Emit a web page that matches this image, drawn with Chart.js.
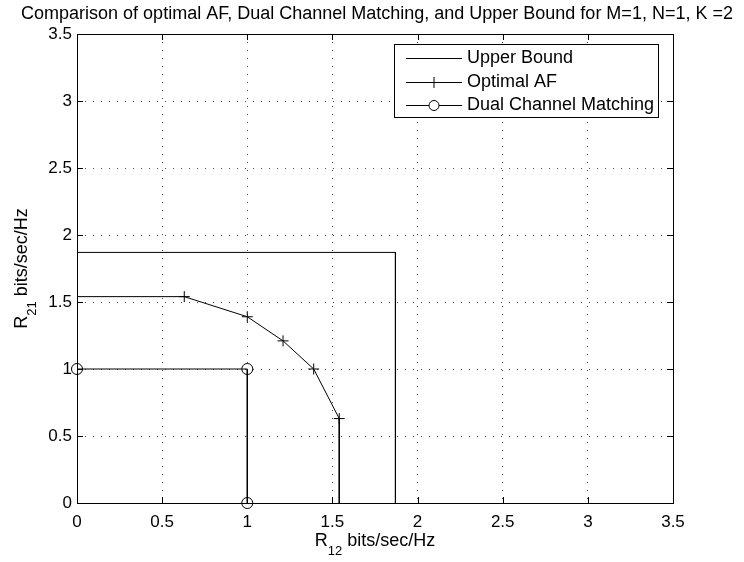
<!DOCTYPE html>
<html>
<head>
<meta charset="utf-8">
<script src="https://cdn.jsdelivr.net/npm/chart.js@4.4.1/dist/chart.umd.min.js"></script>
<style>
  html, body { margin: 0; padding: 0; background: #fff; }
  #wrap { width: 744px; height: 562px; }
</style>
</head>
<body>
<div id="wrap"><canvas id="regionChart" width="744" height="562"></canvas></div>
<script>
// valores
const TITLE = 'Comparison of optimal AF, Dual Channel Matching, and Upper Bound for M=1, N=1, K =2';
const SERIES_NAMES = ['Upper Bound', 'Optimal AF', 'Dual Channel Matching'];

const upperX = [0, 1.87, 1.87];
const upperY = [1.87, 1.87, 0];

const afX = [0, 0.63, 1.0, 1.21, 1.39, 1.54, 1.54];
const afY = [1.54, 1.54, 1.39, 1.21, 1.0, 0.63, 0];

const dualX = [0, 1, 1];
const dualY = [1, 1, 0];

const xTicks = [0, 0.5, 1, 1.5, 2, 2.5, 3, 3.5];
const yTicks = [0, 0.5, 1, 1.5, 2, 2.5, 3, 3.5];
const xTickLabels = ['0', '0.5', '1', '1.5', '2', '2.5', '3', '3.5'];
const yTickLabels = ['0', '0.5', '1', '1.5', '2', '2.5', '3', '3.5'];

const FONT = '"Liberation Sans", Arial, Helvetica, sans-serif';

const toPoints = (xs, ys) => xs.map((x, i) => ({ x, y: ys[i] }));

// caixa, ticks para dentro, rótulos com subscrito e legenda no estilo MATLAB
const matlabDecor = {
  id: 'matlabDecor',
  afterDraw(chart) {
    const { ctx, chartArea: a, scales } = chart;
    const xs = scales.x, ys = scales.y;
    const tl = 6;
    ctx.save();
    ctx.strokeStyle = '#000';
    ctx.lineWidth = 1;
    ctx.setLineDash([]);

    // ticks internos nos quatro lados
    ctx.beginPath();
    xTicks.forEach(v => {
      const px = Math.round(xs.getPixelForValue(v)) + 0.5;
      ctx.moveTo(px, a.bottom); ctx.lineTo(px, a.bottom - tl);
      ctx.moveTo(px, a.top);    ctx.lineTo(px, a.top + tl);
    });
    yTicks.forEach(v => {
      const py = Math.round(ys.getPixelForValue(v)) + 0.5;
      ctx.moveTo(a.left, py);  ctx.lineTo(a.left + tl, py);
      ctx.moveTo(a.right, py); ctx.lineTo(a.right - tl, py);
    });
    ctx.stroke();

    // caixa dos eixos
    ctx.strokeRect(Math.round(a.left) + 0.5, Math.round(a.top) + 0.5,
                   Math.round(a.right - a.left), Math.round(a.bottom - a.top));

    // título
    ctx.fillStyle = '#000';
    ctx.font = '18px ' + FONT;
    ctx.textAlign = 'center';
    ctx.textBaseline = 'middle';
    ctx.fillText(TITLE, 377, 14);

    // rótulo com subscrito
    function subLabel(main, sub, rest, cx, cy) {
      const big = '18px ' + FONT, small = '13px ' + FONT;
      ctx.font = big;  const w1 = ctx.measureText(main).width;
      const w3 = ctx.measureText(rest).width;
      ctx.font = small; const w2 = ctx.measureText(sub).width;
      let x = cx - (w1 + w2 + w3) / 2;
      ctx.textAlign = 'left';
      ctx.textBaseline = 'middle';
      ctx.font = big;   ctx.fillText(main, x, cy); x += w1;
      ctx.font = small; ctx.fillText(sub, x, cy + 10); x += w2;
      ctx.font = big;   ctx.fillText(rest, x, cy);
    }
    subLabel('R', '12', ' bits/sec/Hz', (a.left + a.right) / 2, 541);
    ctx.save();
    ctx.translate(22, (a.top + a.bottom) / 2);
    ctx.rotate(-Math.PI / 2);
    subLabel('R', '21', ' bits/sec/Hz', 0, 0);
    ctx.restore();

    // legenda
    const box = { l: 394.5, t: 44.5, r: 658.5, b: 117.5 };
    ctx.fillStyle = '#fff';
    ctx.fillRect(box.l, box.t, box.r - box.l, box.b - box.t);
    ctx.strokeRect(box.l, box.t, box.r - box.l, box.b - box.t);
    const rowsY = [58.5, 82.5, 105.5];
    const x0 = 406, x1 = 462, xm = (x0 + x1) / 2;
    chart.data.datasets.forEach((ds, i) => {
      const y = rowsY[i];
      ctx.beginPath();
      ctx.moveTo(x0, y); ctx.lineTo(x1, y);
      ctx.stroke();
      if (ds.pointStyle === 'cross') {
        ctx.beginPath();
        ctx.moveTo(xm - 5.5, y); ctx.lineTo(xm + 5.5, y);
        ctx.moveTo(xm, y - 5.5); ctx.lineTo(xm, y + 5.5);
        ctx.stroke();
      } else if (ds.pointStyle === 'circle') {
        ctx.beginPath();
        ctx.arc(xm, y, 5, 0, Math.PI * 2);
        ctx.fillStyle = '#fff';
        ctx.fill();
        ctx.stroke();
      }
      ctx.fillStyle = '#000';
      ctx.font = '18px ' + FONT;
      ctx.textAlign = 'left';
      ctx.textBaseline = 'middle';
      ctx.fillText(ds.label, 467, y);
    });
    ctx.restore();
  }
};

const axisBase = {
  type: 'linear',
  min: 0,
  max: 3.5,
  border: { display: false, dash: [1, 7] },
  grid: { color: '#444', lineWidth: 1, drawTicks: false },
  ticks: { color: '#000', font: { family: FONT, size: 17 } },
};

new Chart(document.getElementById('regionChart'), {
  type: 'scatter',
  data: {
    datasets: [
      {
        label: SERIES_NAMES[0],
        data: toPoints(upperX, upperY),
        showLine: true,
        borderColor: '#000',
        borderWidth: 1,
        pointRadius: 0,
        pointStyle: false,
      },
      {
        label: SERIES_NAMES[1],
        data: toPoints(afX, afY),
        showLine: true,
        borderColor: '#000',
        borderWidth: 1,
        pointStyle: 'cross',
        pointRadius: afX.map((_, i) => (i === 0 || i === afX.length - 1) ? 0 : 5.5),
        pointBorderColor: '#000',
        pointBorderWidth: 1,
        clip: false,
      },
      {
        label: SERIES_NAMES[2],
        data: toPoints(dualX, dualY),
        showLine: true,
        borderColor: '#000',
        borderWidth: 1,
        pointStyle: 'circle',
        pointRadius: 5.5,
        pointBackgroundColor: 'rgba(0,0,0,0)',
        pointBorderColor: '#000',
        pointBorderWidth: 1,
        clip: false,
      },
    ],
  },
  options: {
    responsive: false,
    animation: false,
    devicePixelRatio: 1,
    layout: { padding: { left: 0, top: 34, right: 71, bottom: 0 } },
    plugins: {
      legend: { display: false },
      tooltip: { enabled: false },
      title: { display: false },
    },
    scales: {
      x: {
        ...axisBase,
        ticks: { ...axisBase.ticks, padding: 9, maxRotation: 0,
                 callback: (v, i) => xTickLabels[i] },
        afterBuildTicks: s => { s.ticks = xTicks.map(v => ({ value: v })); },
        afterFit: s => { s.height = 59; },
      },
      y: {
        ...axisBase,
        ticks: { ...axisBase.ticks, padding: 5,
                 callback: (v, i) => yTickLabels[i] },
        afterBuildTicks: s => { s.ticks = yTicks.map(v => ({ value: v })); },
        afterFit: s => { s.width = 77; },
      },
    },
  },
  plugins: [matlabDecor],
});
</script>
</body>
</html>
